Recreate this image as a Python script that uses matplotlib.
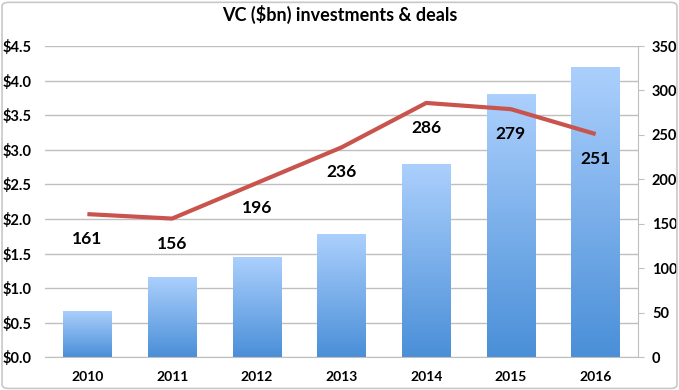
import matplotlib
matplotlib.use("Agg")
import matplotlib.pyplot as plt
import numpy as np
from matplotlib.patches import FancyBboxPatch
from matplotlib.ticker import FuncFormatter, MultipleLocator
from matplotlib.colors import LinearSegmentedColormap

years = ["2010", "2011", "2012", "2013", "2014", "2015", "2016"]
investments_bn = [0.67, 1.16, 1.45, 1.78, 2.79, 3.80, 4.20]
deals = [161, 156, 196, 236, 286, 279, 251]
deal_ticks = [0, 50, 100, 150, 200, 250, 300, 350]

plt.rcParams['font.family'] = ['Lato', 'DejaVu Sans']
plt.rcParams['font.weight'] = 'bold'

fig = plt.figure(figsize=(6.79, 3.90), dpi=100)
fig.patches.append(FancyBboxPatch((0.003, 0.004), 0.994, 0.99, boxstyle="round,pad=0,rounding_size=0.01",
                                  transform=fig.transFigure, fill=False, edgecolor="#c8c8c8", lw=1.2))
ax = fig.add_axes([0.0663, 0.0838, 0.8733, 0.7982])
ax2 = ax.twinx()

x = np.arange(len(years))
bw = 0.57
grad = np.linspace(0, 1, 256).reshape(-1, 1)
cmap = LinearSegmentedColormap.from_list("g", ["#4a8fd8", "#acd0fd"])
bars = ax.bar(x, investments_bn, width=bw, color="none", zorder=2)
for b in bars:
    x0, y0 = b.get_x(), b.get_y()
    w, h = b.get_width(), b.get_height()
    im = ax.imshow(grad, extent=[x0, x0 + w, y0, y0 + h], origin="lower", cmap=cmap,
                   aspect="auto", zorder=2)
    im.set_clip_path(b)
ax.set_aspect("auto")
ax.set_xlim(-0.5, len(years) - 0.5)
ax.set_ylim(0, 4.5)

ax.yaxis.set_major_locator(MultipleLocator(0.5))
ax.yaxis.set_major_formatter(FuncFormatter(lambda v, p: f"${v:.1f}"))
ax.grid(axis="y", color="#bfbfbf", lw=1, zorder=0)
ax.set_axisbelow(True)
ax.set_xticks(x)
ax.set_xticklabels(years)
ax.tick_params(axis="x", length=0, pad=10, labelsize=10)
ax.tick_params(axis="y", length=0, pad=10, labelsize=10.5)
for s in ["top", "right", "left"]:
    ax.spines[s].set_visible(False)
ax.spines["bottom"].set_color("#bfbfbf")

ax2.set_ylim(0, 350)
ax2.set_yticks(deal_ticks)
ax2.set_yticklabels([str(t) for t in deal_ticks])
ax2.plot(x, deals, color="#c9544e", lw=3, zorder=3, solid_capstyle="butt")
for xi, d in zip(x, deals):
    ax2.annotate(str(d), (xi, d), xytext=(0, -18), textcoords="offset points",
                 ha="center", va="center", fontsize=12.5, fontweight="bold", color="black")
ax2.tick_params(axis="y", length=4, color="#bfbfbf", pad=6, labelsize=10.5, direction="out",
                labelcolor="black")
for s in ["top", "left", "bottom"]:
    ax2.spines[s].set_visible(False)
ax2.spines["right"].set_color("#bfbfbf")

fig.text(0.5, 0.962, "VC ($bn) investments & deals", ha="center", va="center",
         fontsize=13, fontweight="bold")

fig.savefig("out.png", dpi=100)
